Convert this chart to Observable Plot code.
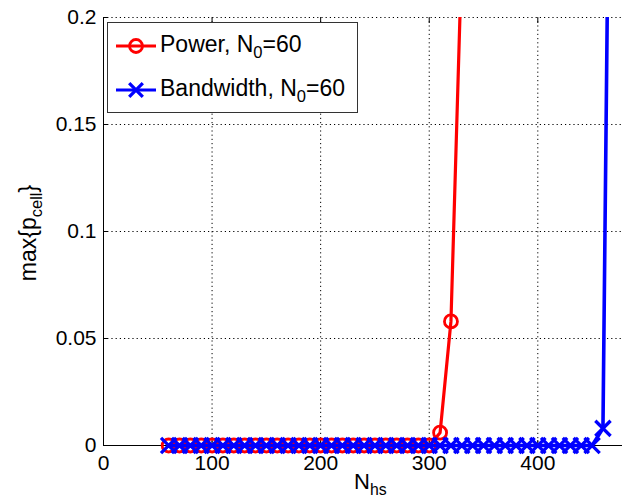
<!DOCTYPE html>
<html><head><meta charset="utf-8">
<script src="https://cdn.jsdelivr.net/npm/d3@7"></script>
<script src="https://cdn.jsdelivr.net/npm/@observablehq/plot@0.6"></script>
<style>
body{margin:0;background:#fff;}
#wrap{position:relative;width:622px;height:504px;font-family:"Liberation Sans",Arial,Helvetica,sans-serif;color:#000;overflow:hidden;}
#wrap svg{position:absolute;left:0;top:0;}
.lbl{position:absolute;white-space:nowrap;line-height:1;}
.lbl sub{font-size:72%;vertical-align:baseline;position:relative;top:0.35em;}
#legend{position:absolute;left:107px;top:22px;width:249px;height:89px;border:1.5px solid #333;background:#fff;}
.lrow{position:absolute;left:0;height:30px;width:100%;}
.lrow svg{position:absolute;left:0;top:0;}
.lrow .t{position:absolute;left:52px;top:2px;font-size:23px;white-space:nowrap;line-height:1;}
.lrow .t sub{font-size:72%;vertical-align:baseline;position:relative;top:0.35em;}
</style></head>
<body><div id="wrap"></div>
<script>
// ----- data -----
const powerN = [60,70,80,90,100,110,120,130,140,150,160,170,180,190,200,210,220,230,240,250,260,270,280,290,300,310,320,330];
const powerP = [0,0,0,0,0,0,0,0,0,0,0,0,0,0,0,0,0,0,0,0,0,0,0,0,0,0.006,0.058,0.23];
const bwN = [60,70,80,90,100,110,120,130,140,150,160,170,180,190,200,210,220,230,240,250,260,270,280,290,300,310,320,330,340,350,360,370,380,390,400,410,420,430,440,450,460,470];
const bwP = [0,0,0,0,0,0,0,0,0,0,0,0,0,0,0,0,0,0,0,0,0,0,0,0,0,0,0,0,0,0,0,0,0,0,0,0,0,0,0,0,0.008,0.5];
const xTicks = [0,100,200,300,400];
const yTicks = [0,0.05,0.1,0.15,0.2];
const seriesNames = ["Power, N<sub>0</sub>=60", "Bandwidth, N<sub>0</sub>=60"];
const seriesColors = ["#ff0000", "#0000ff"];
const xLabel = "N<sub>hs</sub>";
const yLabel = "max{p<sub>cell</sub>}";

const power = powerN.map((n,i)=>({n, p: powerP[i]}));
const bw = bwN.map((n,i)=>({n, p: bwP[i]}));
const yMax = 0.2;

const dotted = {stroke:"#000", strokeOpacity:1, strokeWidth:1, strokeDasharray:"1.2,3"};
const font = "Liberation Sans, Arial, Helvetica, sans-serif";

const chart = Plot.plot({
  width: 622, height: 504,
  marginLeft: 103, marginRight: 0, marginTop: 17, marginBottom: 59,
  style: {fontFamily: font, background: "white"},
  x: {domain: [0, 478]},
  y: {domain: [0, yMax]},
  marks: [
    Plot.gridX(xTicks.filter(d => d > 0), dotted),
    Plot.gridY(yTicks.filter(d => d > 0), dotted),
    Plot.ruleX([0], {stroke:"#000", strokeWidth:1}),
    Plot.ruleY([0], {stroke:"#000", strokeWidth:1}),
    Plot.axisX({ticks: xTicks, tickSize: -5, tickPadding: 15, fontSize: 21, label: null, tickFormat: d => String(d)}),
    Plot.axisY({ticks: yTicks, tickSize: -5, tickPadding: 12, fontSize: 21, label: null, tickFormat: d => String(d)}),
    Plot.axisX({ticks: xTicks, anchor: "top", tickSize: -5, label: null, tickFormat: () => ""}),
    Plot.line(power, {x: "n", y: "p", stroke: seriesColors[0], strokeWidth: 3.2, clip: true}),
    Plot.dot(power.filter(d => d.p <= yMax), {x: "n", y: "p", symbol: "circle", r: 6.5, stroke: seriesColors[0], strokeWidth: 2.8, fill: "none"}),
    Plot.line(bw, {x: "n", y: "p", stroke: seriesColors[1], strokeWidth: 3.6, clip: true}),
    Plot.dot(bw.filter(d => d.p <= yMax), {x: "n", y: "p", symbol: "times", r: 7, stroke: seriesColors[1], strokeWidth: 3.3})
  ]
});

const wrap = document.getElementById("wrap");
wrap.appendChild(chart);
// let clipped lines keep full stroke width along the bottom edge
d3.select(chart).selectAll("clipPath rect").each(function(){
  const r = d3.select(this);
  r.attr("height", +r.attr("height") + 4);
});

// axis labels
const xl = document.createElement("div");
xl.className = "lbl"; xl.innerHTML = xLabel;
xl.style.fontSize = "22px"; xl.style.left = "354px"; xl.style.top = "471px";
wrap.appendChild(xl);

const yl = document.createElement("div");
yl.className = "lbl"; yl.innerHTML = yLabel;
yl.style.fontSize = "23px"; yl.style.left = "28px"; yl.style.top = "233px";
yl.style.transform = "translate(-50%,-50%) rotate(-90deg)";
wrap.appendChild(yl);

// legend
const leg = document.createElement("div");
leg.id = "legend";
wrap.appendChild(leg);
const symbols = ["circle", "times"];
seriesNames.forEach((name, i) => {
  const row = document.createElement("div");
  row.className = "lrow";
  row.style.top = (i === 0 ? 8 : 52) + "px";
  const mk = symbols[i] === "circle"
    ? `<circle cx="28" cy="15" r="6.5" fill="none" stroke="${seriesColors[i]}" stroke-width="2.8"/>`
    : `<path d="M21.2,8.2L34.8,21.8M21.2,21.8L34.8,8.2" stroke="${seriesColors[i]}" stroke-width="3.3"/>`;
  row.innerHTML = `<svg width="50" height="30"><line x1="8" x2="48" y1="15" y2="15" stroke="${seriesColors[i]}" stroke-width="3.2"/>${mk}</svg><div class="t">${name}</div>`;
  leg.appendChild(row);
});
</script>
</body></html>
